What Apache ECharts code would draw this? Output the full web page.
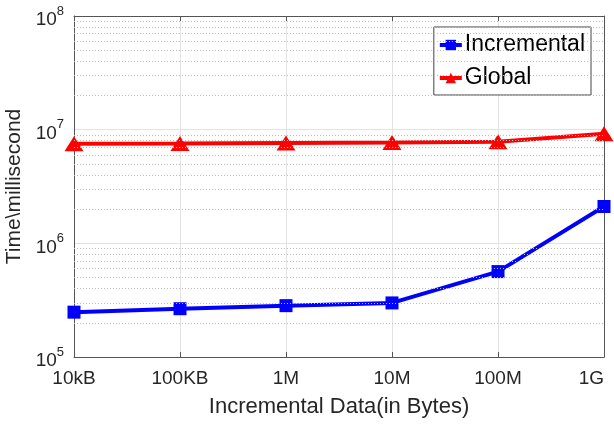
<!DOCTYPE html>
<html>
<head>
<meta charset="utf-8">
<script src="https://cdn.jsdelivr.net/npm/echarts@6/dist/echarts.min.js"></script>
<style>
  html, body { margin: 0; padding: 0; background: #fff; }
  #chart { width: 614px; height: 425px; }
</style>
</head>
<body>
<div id="chart"></div>
<script>
// data
const sizes = ['10kB', '100KB', '1M', '10M', '100M', '1G'];
const incremental = [2.48e5, 2.66e5, 2.83e5, 2.99e5, 5.64e5, 2.11e6];
const global = [7.53e6, 7.55e6, 7.64e6, 7.73e6, 7.84e6, 9.22e6];
// minor grid lines (2..9 of each decade)
const minorValues = [];
for (let e = 5; e < 8; e++) {
  for (let k = 2; k <= 9; k++) minorValues.push(k * Math.pow(10, e));
}

const font = 'Liberation Sans';
const textColor = '#262626';
const chart = echarts.init(document.getElementById('chart'));

const option = {
  backgroundColor: '#fff',
  animation: false,
  textStyle: { fontFamily: font },
  grid: { left: 74, right: 10, top: 16, bottom: 68, containLabel: false, outerBoundsMode: 'none' },
  legend: {
    top: 27,
    right: 23,
    orient: 'vertical',
    backgroundColor: '#fff',
    borderColor: '#444',
    borderWidth: 1,
    padding: [5, 6, 4, 4],
    itemGap: 7,
    itemWidth: 22,
    itemHeight: 13,
    textStyle: { fontSize: 23, lineHeight: 26, color: '#000', fontFamily: font, padding: [0, 0, 0, -2] },
    data: [
      { name: 'Incremental', lineStyle: { width: 4 } },
      { name: 'Global', lineStyle: { width: 4 } }
    ]
  },
  xAxis: [{
    type: 'category',
    data: sizes,
    boundaryGap: false,
    name: 'Incremental Data(in Bytes)',
    nameLocation: 'middle',
    nameGap: 39,
    nameTextStyle: { fontSize: 22, color: textColor },
    axisLine: { lineStyle: { color: '#555', width: 1 } },
    axisTick: { inside: true, length: 5, lineStyle: { color: '#555' } },
    axisLabel: { fontSize: 19, color: textColor, margin: 12, alignMaxLabel: 'right' },
    splitLine: { show: true, lineStyle: { color: '#e3e3e3', width: 1 } }
  }, {
    type: 'category',
    data: sizes,
    boundaryGap: false,
    position: 'top',
    axisLine: { lineStyle: { color: '#555', width: 1 } },
    axisTick: { inside: true, length: 5, lineStyle: { color: '#555' } },
    axisLabel: { show: false },
    splitLine: { show: false }
  }],
  yAxis: [{
    type: 'log',
    logBase: 10,
    min: 1e5,
    max: 1e8,
    name: 'Time\\millisecond',
    nameLocation: 'middle',
    nameGap: 43,
    nameTextStyle: { fontSize: 21, color: textColor },
    axisLine: { show: true, lineStyle: { color: '#555', width: 1 } },
    axisTick: { inside: true, length: 5, lineStyle: { color: '#555' } },
    axisLabel: {
      margin: 10,
      formatter: v => '{b|10}{s|' + Math.round(Math.log10(v)) + '}',
      rich: {
        b: { fontSize: 19, color: textColor, fontFamily: font, padding: [8, 0, 0, 0] },
        s: { fontSize: 13, color: textColor, fontFamily: font, padding: [0, 0, 10, 0] }
      }
    },
    splitLine: { show: true, lineStyle: { color: '#e3e3e3', width: 1 } }
  }, {
    type: 'log',
    logBase: 10,
    min: 1e5,
    max: 1e8,
    position: 'right',
    axisLine: { show: true, lineStyle: { color: '#555', width: 1 } },
    axisTick: { inside: true, length: 5, lineStyle: { color: '#555' } },
    axisLabel: { show: false },
    splitLine: { show: false }
  }],
  series: [{
    name: 'Incremental',
    type: 'line',
    data: incremental,
    symbol: 'rect',
    symbolSize: 13,
    lineStyle: { color: '#0000ff', width: 4 },
    itemStyle: { color: '#0000ff' },
    z: 3,
    markLine: {
      silent: true,
      symbol: 'none',
      label: { show: false },
      lineStyle: { color: '#bdbdbd', type: [1, 2], width: 1 },
      data: minorValues.map(v => ({ yAxis: v }))
    }
  }, {
    name: 'Global',
    type: 'line',
    data: global,
    symbol: 'triangle',
    symbolSize: [19, 15],
    lineStyle: { color: '#ff0000', width: 4 },
    itemStyle: { color: '#ff0000' },
    z: 3
  }]
};

chart.setOption(option);
</script>
</body>
</html>
